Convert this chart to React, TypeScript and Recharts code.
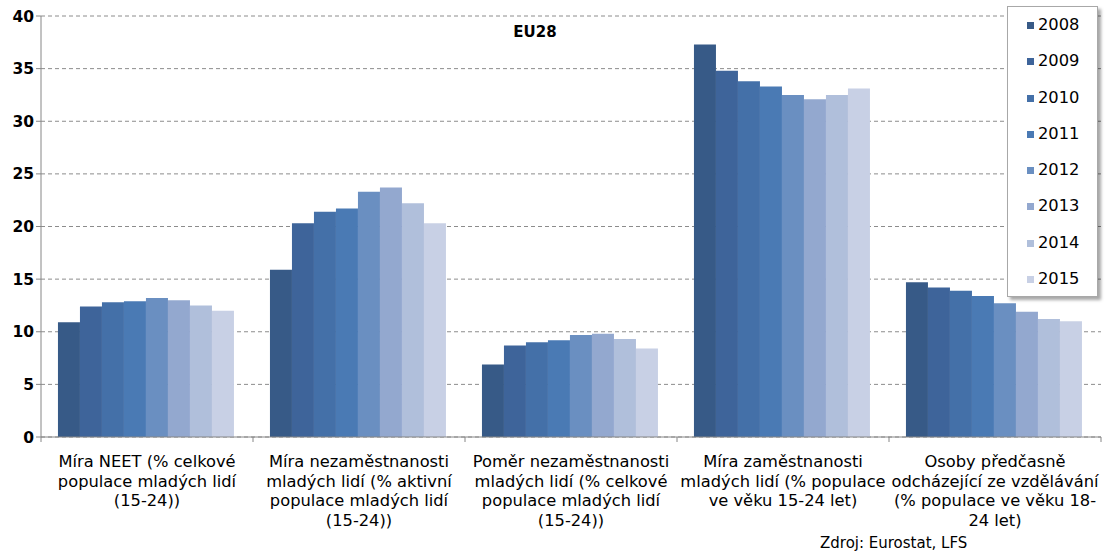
import { Bar, BarChart, CartesianGrid, XAxis, YAxis } from 'recharts'

const categories = [
  ['Míra NEET (% celkové', 'populace mladých lidí', '(15-24))'],
  ['Míra nezaměstnanosti', 'mladých lidí (% aktivní', 'populace mladých lidí', '(15-24))'],
  ['Poměr nezaměstnanosti', 'mladých lidí (% celkové', 'populace mladých lidí', '(15-24))'],
  ['Míra zaměstnanosti', 'mladých lidí (% populace', 've věku 15-24 let)'],
  ['Osoby předčasně', 'odcházející ze vzdělávání', '(% populace ve věku 18-', '24 let)'],
]

const years = ['2008', '2009', '2010', '2011', '2012', '2013', '2014', '2015']

const neet = [10.9, 12.4, 12.8, 12.9, 13.2, 13.0, 12.5, 12.0]
const unemploymentRate = [15.9, 20.3, 21.4, 21.7, 23.3, 23.7, 22.2, 20.3]
const unemploymentRatio = [6.9, 8.7, 9.0, 9.2, 9.7, 9.8, 9.3, 8.4]
const employmentRate = [37.3, 34.8, 33.8, 33.3, 32.5, 32.1, 32.5, 33.1]
const earlyLeavers = [14.7, 14.2, 13.9, 13.4, 12.7, 11.9, 11.2, 11.0]

const yTicks = [0, 5, 10, 15, 20, 25, 30, 35, 40]

const colors = ['#375a87', '#3e649a', '#4470a8', '#4a7ab4', '#6a8fc1', '#93a8cf', '#b0bfdb', '#c8d0e5']

const series = [neet, unemploymentRate, unemploymentRatio, employmentRate, earlyLeavers]
const data = categories.map((lines, i) => {
  const row: Record<string, any> = { name: lines.join(' ') }
  years.forEach((y, j) => (row[y] = series[i][j]))
  return row
})

const W = 1106
const H = 555
const LEFT = 41
const RIGHT = 5
const band = (W - LEFT - RIGHT) / categories.length
const font = '"DejaVu Sans", Verdana, sans-serif'

function CategoryTick({ x, y, index }: any) {
  const lines: string[] = categories[index]
  return (
    <g>
      <line x1={x - band / 2} x2={x - band / 2} y1={y - 8} y2={y - 3} stroke="#868686" />
      {index === categories.length - 1 && (
        <line x1={x + band / 2} x2={x + band / 2} y1={y - 8} y2={y - 3} stroke="#868686" />
      )}
      {lines.map((l, i) => (
        <text key={i} x={x} y={y + 22 + i * 19.5} textAnchor="middle" fontSize={16.3} fontFamily={font} fill="#000">
          {l}
        </text>
      ))}
    </g>
  )
}

function YearLegend() {
  return (
    <div
      style={{
        position: 'absolute',
        left: 1007,
        top: 6,
        width: 91,
        height: 291,
        border: '1px solid #a8a8a8',
        background: '#fff',
        boxShadow: '3px 3px 3px rgba(0,0,0,0.35)',
        fontFamily: font,
        fontSize: 16.3,
        paddingTop: 8,
        boxSizing: 'border-box',
      }}
    >
      {years.map((y, i) => (
        <div key={y} style={{ height: 36.3, display: 'flex', alignItems: 'flex-start', paddingLeft: 19 }}>
          <span style={{ width: 7, height: 7, background: colors[i], marginTop: 7, marginRight: 4 }} />
          <span style={{ lineHeight: '20px' }}>{y}</span>
        </div>
      ))}
    </div>
  )
}

export default function App() {
  return (
    <div style={{ position: 'absolute', left: 0, top: 0, width: W, height: H, background: '#fff' }}>
      <BarChart
        width={W}
        height={H}
        data={data}
        margin={{ top: 16, right: RIGHT, left: 0, bottom: 0 }}
        barGap={0}
        barCategoryGap="8%"
      >
        <CartesianGrid vertical={false} stroke="#8c8c8c" strokeDasharray="4 3" />
        <XAxis
          dataKey="name"
          height={118}
          stroke="#868686"
          tickLine={false}
          interval={0}
          tick={<CategoryTick />}
        />
        <YAxis
          domain={[0, 40]}
          ticks={yTicks}
          width={LEFT}
          stroke="#868686"
          tickSize={5}
          tick={{ fill: '#000', fontSize: 15.5, fontWeight: 'bold', fontFamily: font }}
        />
        {years.map((y, i) => (
          <Bar key={y} dataKey={y} fill={colors[i]} isAnimationActive={false} />
        ))}
        <text x={535} y={37} textAnchor="middle" fontSize={15} fontWeight="bold" fontFamily={font}>
          EU28
        </text>
        <text x={820} y={548} fontSize={15} fontFamily={font}>
          Zdroj: Eurostat, LFS
        </text>
      </BarChart>
      <YearLegend />
    </div>
  )
}
